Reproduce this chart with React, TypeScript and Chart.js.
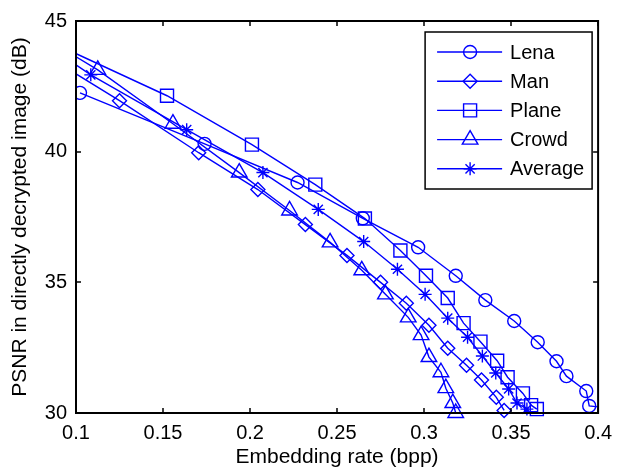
import React, { useEffect, useRef } from 'react';
import { Chart, registerables } from 'chart.js';
import { drawPoint } from 'chart.js/helpers';

Chart.register(...registerables);

// ---- data ----
const seriesNames = ['Lena', 'Man', 'Plane', 'Crowd', 'Average'];

const lenaX = [0.1023, 0.1739, 0.2273, 0.2648, 0.2966, 0.3182, 0.3352, 0.3518, 0.3653, 0.3761, 0.3818, 0.3932, 0.3949, 0.42];
const lenaY = [42.25, 40.3, 38.82, 37.45, 36.34, 35.25, 34.32, 33.52, 32.71, 31.98, 31.41, 30.84, 30.27, 30.1];

const manX = [0.09, 0.125, 0.1705, 0.2045, 0.2318, 0.2557, 0.275, 0.2898, 0.3028, 0.3136, 0.3244, 0.333, 0.3415, 0.346];
const manY = [43.39, 41.95, 39.96, 38.55, 37.21, 36.03, 35.0, 34.2, 33.36, 32.48, 31.83, 31.26, 30.6, 30.1];

const planeX = [0.09, 0.1523, 0.2011, 0.2375, 0.266, 0.2864, 0.3011, 0.3136, 0.3227, 0.3324, 0.342, 0.348, 0.3568, 0.3615, 0.3648];
const planeY = [44.06, 42.14, 40.27, 38.74, 37.44, 36.22, 35.25, 34.4, 33.44, 32.73, 32.0, 31.37, 30.75, 30.3, 30.15];

const crowdX = [0.09, 0.1125, 0.1557, 0.1938, 0.2227, 0.246, 0.2642, 0.2778, 0.2909, 0.2983, 0.3028, 0.3097, 0.3125, 0.3165, 0.3182];
const crowdY = [44.03, 43.13, 41.07, 39.2, 37.75, 36.53, 35.46, 34.54, 33.66, 32.98, 32.14, 31.56, 30.95, 30.38, 30.0];

const averageX = [0.09, 0.1085, 0.1636, 0.2074, 0.2392, 0.2653, 0.2847, 0.3006, 0.3136, 0.325, 0.3335, 0.3412, 0.3486, 0.3534, 0.3591];
const averageY = [43.77, 42.94, 40.84, 39.2, 37.79, 36.56, 35.5, 34.54, 33.63, 32.9, 32.18, 31.53, 30.92, 30.38, 30.15];

const xTicks = [0.1, 0.15, 0.2, 0.25, 0.3, 0.35, 0.4];
const xTickLabels = ['0.1', '0.15', '0.2', '0.25', '0.3', '0.35', '0.4'];
const yTicks = [30, 35, 40, 45];
const yTickLabels = ['30', '35', '40', '45'];

const xTitle = 'Embedding rate (bpp)';
const yTitle = 'PSNR in directly decrypted image (dB)';

// ---- styles ----
const BLUE = '#0000ff';
const FONT = "'Liberation Sans', Arial, sans-serif";
const markerStyles = [
  { pointStyle: 'circle', radius: 6.5 },
  { pointStyle: 'rectRot', radius: 7 },
  { pointStyle: 'rect', radius: 9.2 },
  { pointStyle: 'triangle', radius: 9 },
  { pointStyle: 'star', radius: 6.5 },
];

const toPoints = (xs: number[], ys: number[]) => xs.map((x, i) => ({ x, y: ys[i] }));

const framePlugin = {
  id: 'matlabFrame',
  afterDatasetsDraw(chart: any) {
    const { ctx, chartArea: a, scales } = chart;
    ctx.save();
    ctx.strokeStyle = '#000';
    ctx.lineWidth = 1.5;
    const tl = 5;
    ctx.beginPath();
    xTicks.forEach((v) => {
      const px = Math.round(scales.x.getPixelForValue(v));
      ctx.moveTo(px, a.bottom);
      ctx.lineTo(px, a.bottom - tl);
      ctx.moveTo(px, a.top);
      ctx.lineTo(px, a.top + tl);
    });
    yTicks.forEach((v) => {
      const py = Math.round(scales.y.getPixelForValue(v));
      ctx.moveTo(a.left, py);
      ctx.lineTo(a.left + tl, py);
      ctx.moveTo(a.right, py);
      ctx.lineTo(a.right - tl, py);
    });
    ctx.stroke();
    ctx.lineWidth = 2;
    ctx.strokeRect(a.left, a.top, a.right - a.left, a.bottom - a.top);

    // legend box
    const bw = 167;
    const bh = 157;
    const bx = a.right - 173;
    const by = a.top + 11;
    ctx.fillStyle = '#fff';
    ctx.fillRect(bx, by, bw, bh);
    ctx.lineWidth = 1.5;
    ctx.strokeStyle = '#000';
    ctx.strokeRect(bx, by, bw, bh);
    chart.data.datasets.forEach((ds: any, i: number) => {
      const cy = by + 20 + i * 29.2;
      ctx.strokeStyle = ds.borderColor;
      ctx.lineWidth = ds.borderWidth;
      ctx.beginPath();
      ctx.moveTo(bx + 12, cy);
      ctx.lineTo(bx + 77, cy);
      ctx.stroke();
      ctx.fillStyle = 'rgba(0,0,0,0)';
      ctx.strokeStyle = ds.pointBorderColor;
      ctx.lineWidth = ds.pointBorderWidth;
      drawPoint(ctx, { pointStyle: ds.pointStyle, radius: ds.pointRadius, borderWidth: ds.pointBorderWidth, rotation: 0 } as any, bx + 45, cy);
      ctx.fillStyle = '#000';
      ctx.font = `20px ${FONT}`;
      ctx.textBaseline = 'middle';
      ctx.textAlign = 'left';
      ctx.fillText(ds.label, bx + 85, cy + 1);
    });
    ctx.restore();
  },
};

export default function App() {
  const canvasRef = useRef<HTMLCanvasElement | null>(null);

  useEffect(() => {
    const canvas = canvasRef.current;
    if (!canvas) return;
    const xsList = [lenaX, manX, planeX, crowdX, averageX];
    const ysList = [lenaY, manY, planeY, crowdY, averageY];
    const datasets = seriesNames.map((name, i) => ({
      label: name,
      data: toPoints(xsList[i], ysList[i]),
      borderColor: BLUE,
      borderWidth: 1.4,
      backgroundColor: 'rgba(0,0,0,0)',
      pointStyle: markerStyles[i].pointStyle,
      pointRadius: markerStyles[i].radius,
      pointHoverRadius: markerStyles[i].radius,
      pointBorderColor: BLUE,
      pointBackgroundColor: 'rgba(0,0,0,0)',
      pointBorderWidth: 1.4,
      fill: false,
      tension: 0,
      clip: { left: 0, top: 0, right: 0, bottom: 10 },
    }));

    const chart = new Chart(canvas, {
      type: 'line',
      data: { datasets } as any,
      options: {
        animation: false,
        responsive: false,
        devicePixelRatio: 1,
        layout: { padding: { top: 20, right: 16, left: 0, bottom: 0 } },
        plugins: {
          legend: { display: false },
          tooltip: { enabled: false },
        },
        scales: {
          x: {
            type: 'linear',
            min: 0.1,
            max: 0.4,
            grid: { display: false, drawTicks: false },
            border: { display: false },
            afterBuildTicks: (scale: any) => {
              scale.ticks = xTicks.map((v) => ({ value: v }));
            },
            afterFit: (scale: any) => {
              scale.height = 57;
            },
            ticks: {
              padding: 8,
              color: '#000',
              font: { family: FONT, size: 20 },
              maxRotation: 0,
              autoSkip: false,
              callback: (_v: any, i: number) => xTickLabels[i],
            },
            title: {
              display: true,
              text: xTitle,
              color: '#000',
              font: { family: FONT, size: 21 },
              padding: { top: 0, bottom: 0 },
            },
          },
          y: {
            type: 'linear',
            min: 30,
            max: 45,
            grid: { display: false, drawTicks: false },
            border: { display: false },
            afterBuildTicks: (scale: any) => {
              scale.ticks = yTicks.map((v) => ({ value: v }));
            },
            afterFit: (scale: any) => {
              scale.width = 76;
            },
            ticks: {
              padding: 9,
              color: '#000',
              font: { family: FONT, size: 20 },
              autoSkip: false,
              callback: (_v: any, i: number) => yTickLabels[i],
            },
            title: {
              display: true,
              text: yTitle,
              color: '#000',
              font: { family: FONT, size: 21 },
              padding: { top: 8, bottom: 0 },
            },
          },
        },
      } as any,
      plugins: [framePlugin],
    });

    return () => {
      chart.destroy();
    };
  }, []);

  return (
    <div style={{ position: 'fixed', left: 0, top: 0, width: 620, height: 470, background: '#fff' }}>
      <canvas ref={canvasRef} width={620} height={470} style={{ display: 'block', width: 620, height: 470 }} />
    </div>
  );
}
